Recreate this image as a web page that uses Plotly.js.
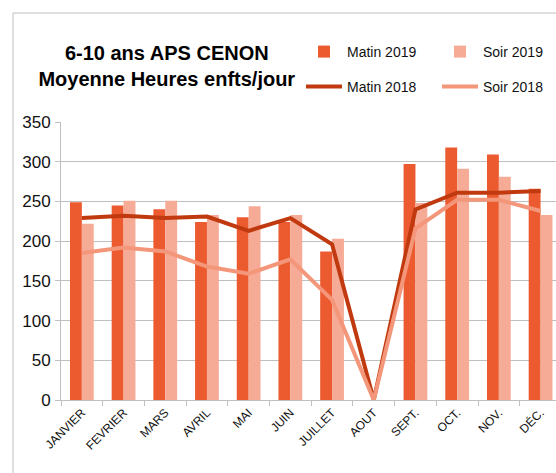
<!DOCTYPE html>
<html>
<head>
<meta charset="utf-8">
<script src="https://cdn.plot.ly/plotly-3.0.1.min.js"></script>
<style>html,body{margin:0;padding:0;background:#fff;}#chart{width:556px;height:473px;}</style>
</head>
<body>
<div id="chart"></div>
<script>
const months = ['JANVIER','FEVRIER','MARS','AVRIL','MAI','JUIN','JUILLET','AOUT','SEPT.','OCT.','NOV.','DÉC.'];
const matin2019 = [249,245,240,224,230,224,187,0,297,318,309,266];
const soir2019 = [222,251,251,233,244,233,203,0,248,291,281,233];
const matin2018 = [229,232,229,231,213,229,196,0,240,261,261,263];
const soir2018 = [185,192,187,168,159,177,126,0,216,252,252,238];
const yTicks = [0,50,100,150,200,250,300,350];

const FONT = 'Liberation Sans, Arial, sans-serif';
const traces = [
  {type:'bar', name:'Matin 2019', x:months, y:matin2019, marker:{color:'#EC5B30'}, legend:'legend'},
  {type:'bar', name:'Soir 2019', x:months, y:soir2019, marker:{color:'#F6AB96'}, legend:'legend2'},
  {type:'scatter', mode:'lines', name:'Matin 2018', x:months, y:matin2018, line:{color:'#C0390F', width:4}, legend:'legend3'},
  {type:'scatter', mode:'lines', name:'Soir 2018', x:months, y:soir2018, line:{color:'#F4967A', width:4}, legend:'legend4'}
];

const px2x = p => (p - 61) / 495;
const py2y = p => (400 - p) / 278;
function leg(xp, yp) {
  return {orientation:'v', x:px2x(xp), xanchor:'left', y:py2y(yp), yanchor:'middle',
          font:{family:FONT, size:14, color:'#111'}, itemwidth:36, bgcolor:'rgba(0,0,0,0)', borderwidth:0};
}

const layout = {
  width:556, height:473,
  margin:{l:61, r:0, t:122, b:73},
  paper_bgcolor:'#fff', plot_bgcolor:'#fff',
  barmode:'group', bargap:0.43, bargroupgap:0,
  font:{family:FONT, color:'#111'},
  title:{text:'6-10 ans APS CENON<br>Moyenne Heures enfts/jour', x:0.30, xanchor:'center', xref:'container',
         y:1-60/473, yanchor:'middle', yref:'container', font:{family:FONT, size:20, weight:'bold', color:'#000'}},
  xaxis:{type:'category', range:[-0.5, 11.37], showgrid:false, showline:true, linecolor:'#BFBFBF', linewidth:1,
         ticks:'outside', tickson:'boundaries', ticklen:5, tickcolor:'#BFBFBF', tickangle:-45,
         tickfont:{family:FONT, size:12, color:'#111'}, fixedrange:true},
  yaxis:{range:[0,350], tickvals:yTicks, showgrid:true, gridcolor:'#BFBFBF', gridwidth:1, zeroline:false,
         showline:true, linecolor:'#BFBFBF', linewidth:1, ticks:'outside', ticklen:5, tickcolor:'#BFBFBF',
         tickfont:{family:FONT, size:17, color:'#111'}, ticklabelstandoff:1},
  legend: leg(301, 52),
  legend2: leg(437, 52),
  legend3: leg(301, 87),
  legend4: leg(437, 87),
  shapes:[{type:'rect', xref:'paper', yref:'paper', x0:(13-61)/495, x1:1.1, y0:-0.5, y1:(400-13)/278,
           line:{color:'#BFBFBF', width:1}, fillcolor:'rgba(0,0,0,0)', layer:'below'}],
  showlegend:true
};

Plotly.newPlot('chart', traces, layout, {displayModeBar:false, staticPlot:true});
</script>
</body>
</html>
